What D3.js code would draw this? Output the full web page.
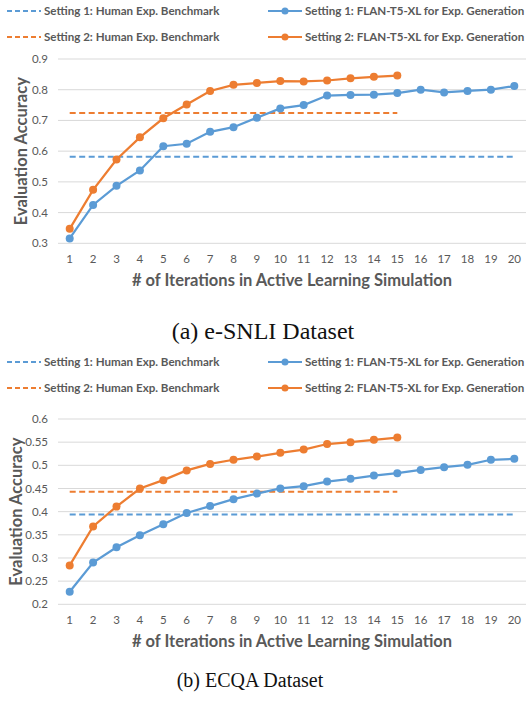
<html>
<head>
<script src="https://cdn.jsdelivr.net/npm/d3@7"></script>
</head>
<body style="margin:0">
<div id="container1"></div>
<script>

const blue = "#5b9bd5", orange = "#ed7d31";

const iterations = d3.range(1, 21);

// (a) e-SNLI
const snliS1 = [0.316, 0.425, 0.487, 0.537, 0.616, 0.624, 0.663, 0.678, 0.709, 0.739,
                0.750, 0.781, 0.783, 0.784, 0.789, 0.800, 0.791, 0.796, 0.800, 0.812];
const snliS2 = [0.347, 0.474, 0.573, 0.645, 0.707, 0.752, 0.796, 0.816, 0.822, 0.828,
                0.827, 0.830, 0.837, 0.842, 0.846];
const snliBench1 = 0.582, snliBench2 = 0.724;
const snliTicks = [0.3, 0.4, 0.5, 0.6, 0.7, 0.8, 0.9];

// (b) ECQA
const ecqaS1 = [0.227, 0.290, 0.323, 0.349, 0.373, 0.397, 0.412, 0.427, 0.439, 0.450,
                0.455, 0.465, 0.471, 0.478, 0.483, 0.490, 0.496, 0.501, 0.512, 0.514];
const ecqaS2 = [0.284, 0.368, 0.411, 0.450, 0.468, 0.489, 0.503, 0.512, 0.519, 0.527,
                0.534, 0.546, 0.550, 0.555, 0.560];
const ecqaBench1 = 0.394, ecqaBench2 = 0.443;
const ecqaTicks = [0.2, 0.25, 0.3, 0.35, 0.4, 0.45, 0.5, 0.55, 0.6];

const legendLabels = ["Setting 1: Human Exp. Benchmark", "Setting 1: FLAN-T5-XL for Exp. Generation",
                      "Setting 2: Human Exp. Benchmark", "Setting 2: FLAN-T5-XL for Exp. Generation"];

const svg = d3.select("#container1")
  .append("svg")
    .attr("width", 526)
    .attr("height", 706)
    .style("font-family", "Lato, 'Open Sans', sans-serif");

function panel(top, p) {
  const g = svg.append("g").attr("transform", `translate(0,${top})`);

  // legend
  const leg = [[0, 11, blue, true, legendLabels[0]], [1, 11, blue, false, legendLabels[1]],
               [0, 37, orange, true, legendLabels[2]], [1, 37, orange, false, legendLabels[3]]];
  leg.forEach(function(d) {
    const x0 = d[0] ? 268 : 7;
    g.append("line").attr("x1", x0).attr("x2", x0 + 34).attr("y1", d[1]).attr("y2", d[1])
      .attr("stroke", d[2]).attr("stroke-width", 2)
      .attr("stroke-dasharray", d[3] ? "5,3" : null);
    if (!d[3]) g.append("circle").attr("cx", x0 + 17).attr("cy", d[1]).attr("r", 3.5).attr("fill", d[2]);
    g.append("text").attr("x", x0 + 37).attr("y", d[1]).attr("dy", "0.35em")
      .style("font-size", "11.6px").style("font-weight", "bold").attr("fill", "#595959")
      .text(d[4]);
  });

  const x = d3.scalePoint().domain(iterations).range([58, 526]).padding(0.5);
  const y = d3.scaleLinear().domain(p.domain).range([p.y0, p.y1]);

  g.append("g").selectAll("line").data(p.ticks).join("line")
    .attr("x1", 58).attr("x2", 526)
    .attr("y1", d => y(d)).attr("y2", d => y(d))
    .attr("stroke", "#d9d9d9").attr("stroke-width", 1);

  g.append("g").selectAll("text").data(p.ticks).join("text")
    .attr("x", 48).attr("y", d => y(d)).attr("dy", "0.35em")
    .attr("text-anchor", "end").style("font-size", "11.5px").attr("fill", "#595959")
    .text(d => d);

  g.append("g").selectAll("text").data(iterations).join("text")
    .attr("x", d => x(d)).attr("y", p.y0 + 16).attr("dy", "0.35em")
    .attr("text-anchor", "middle").style("font-size", "11.5px").attr("fill", "#595959")
    .text(d => d);

  g.append("text").attr("x", 292).attr("y", p.y0 + 37).attr("dy", "0.35em")
    .attr("text-anchor", "middle").style("font-size", "16.5px").style("font-weight", "bold")
    .attr("fill", "#595959").text("# of Iterations in Active Learning Simulation");

  g.append("text")
    .attr("transform", `translate(${p.ytx},${(p.y0 + p.y1) / 2}) rotate(-90)`)
    .attr("dy", "0.35em").attr("text-anchor", "middle")
    .style("font-size", "16.5px").style("font-weight", "bold")
    .attr("fill", "#595959").text("Evaluation Accuracy");

  // benchmarks
  [[p.b1, 20, blue], [p.b2, 15, orange]].forEach(function(b) {
    g.append("line").attr("x1", x(1)).attr("x2", x(b[1]))
      .attr("y1", y(b[0])).attr("y2", y(b[0]))
      .attr("stroke", b[2]).attr("stroke-width", 2).attr("stroke-dasharray", "6,3.5");
  });

  const line = d3.line().x((d, i) => x(i + 1)).y(d => y(d));
  [[p.s1, blue], [p.s2, orange]].forEach(function(s) {
    g.append("path").datum(s[0]).attr("d", line)
      .attr("fill", "none").attr("stroke", s[1]).attr("stroke-width", 2.25);
    g.append("g").selectAll("circle").data(s[0]).join("circle")
      .attr("cx", (d, i) => x(i + 1)).attr("cy", d => y(d)).attr("r", 4)
      .attr("fill", s[1]);
  });

  svg.append("text").attr("x", p.capX).attr("y", top + p.capY)
    .attr("text-anchor", "middle")
    .style("font-family", "'Liberation Serif', 'Times New Roman', serif")
    .style("font-size", p.capSize + "px").attr("fill", "#111")
    .text(p.caption);
}

panel(0, {domain: [0.3, 0.9], y0: 243.3, y1: 59, ticks: snliTicks, s1: snliS1, s2: snliS2,
  b1: snliBench1, b2: snliBench2, ytx: 21, caption: "(a) e-SNLI Dataset",
  capX: 263, capY: 339, capSize: 24});
panel(351, {domain: [0.2, 0.6], y0: 604.3 - 351, y1: 419 - 351, ticks: ecqaTicks, s1: ecqaS1, s2: ecqaS2,
  b1: ecqaBench1, b2: ecqaBench2, ytx: 16, caption: "(b) ECQA Dataset",
  capX: 250, capY: 336, capSize: 20});

</script>
</body>
</html>
